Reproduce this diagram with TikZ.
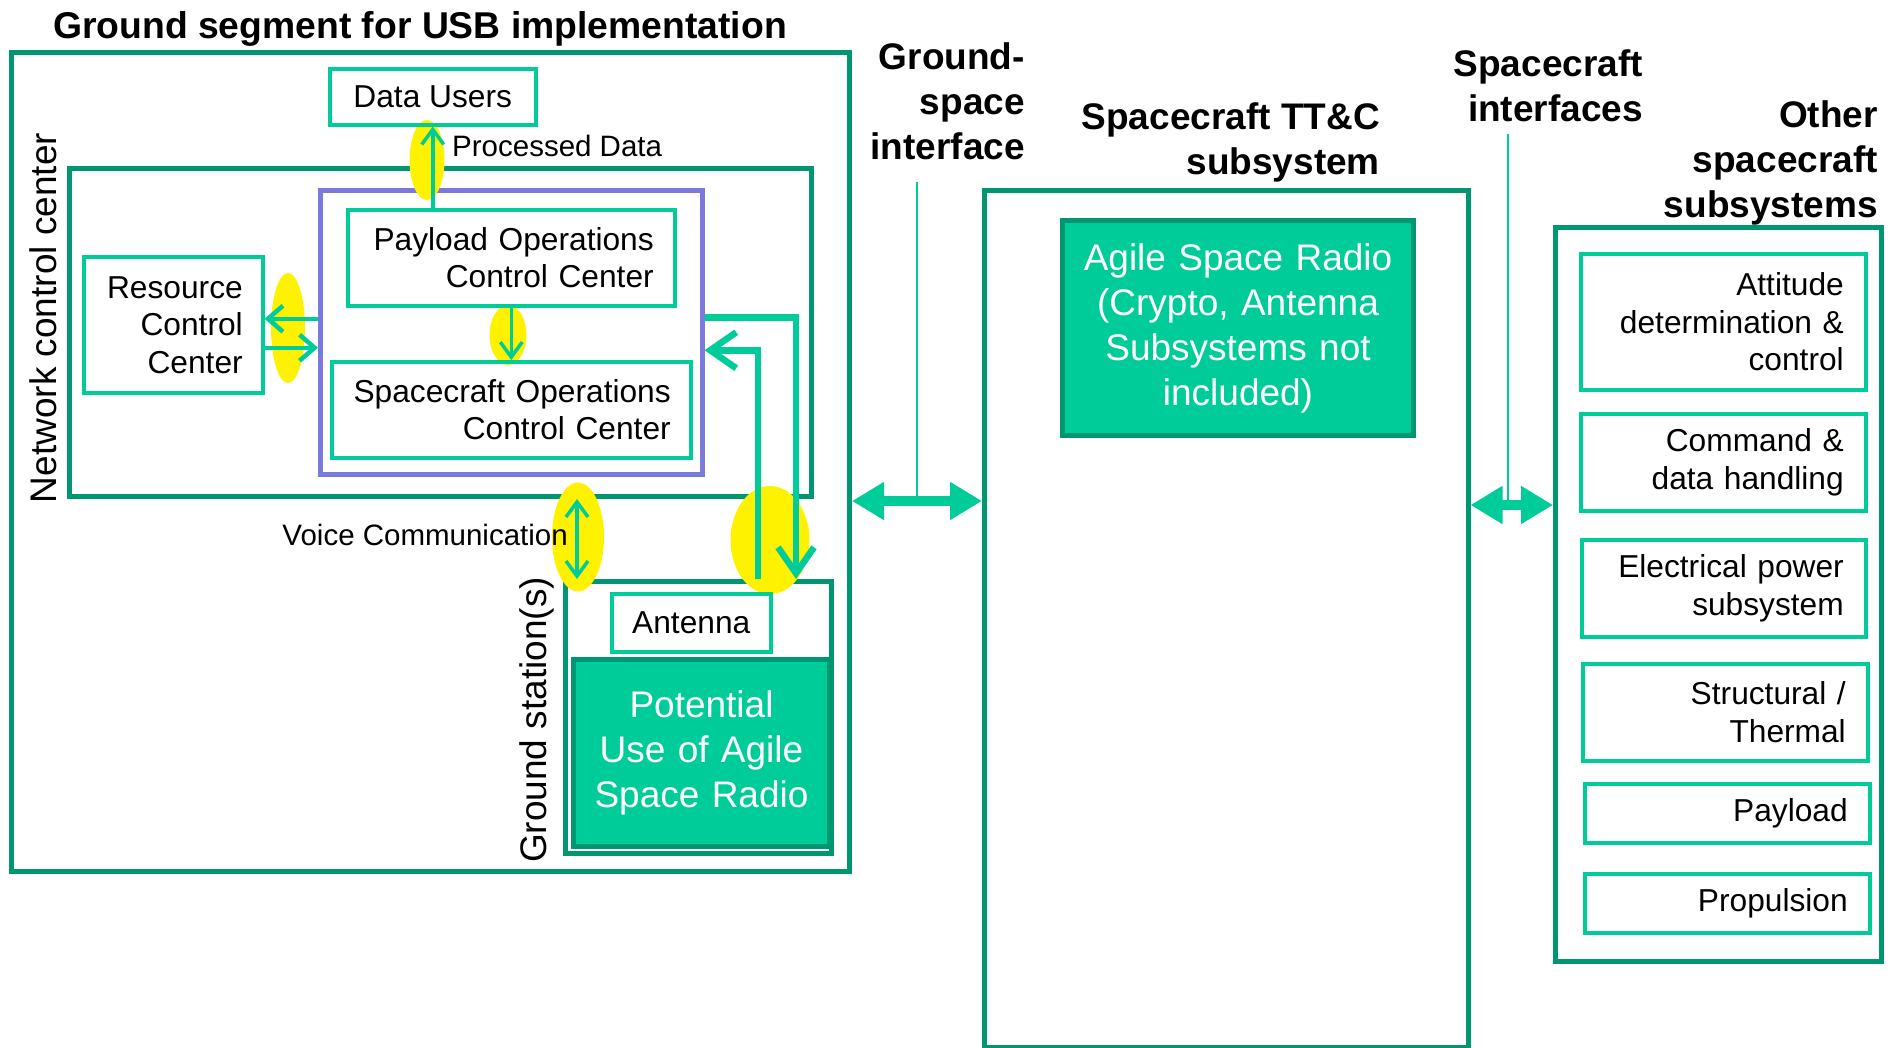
\documentclass[tikz,border=0pt]{standalone}
\usepackage{fontspec}
\setmainfont{Liberation Sans}
\usetikzlibrary{arrows.meta,calc}
\definecolor{lg}{RGB}{0,204,153}
\definecolor{dg}{RGB}{0,150,112}
\definecolor{pu}{RGB}{122,122,222}
\tikzset{
  dbox/.style={draw=dg, line width=5pt, anchor=north west, inner sep=0pt},
  lbox/.style={draw=lg, line width=3.5pt, anchor=north west, inner ysep=0pt, font=\fontsize{31.7}{37.5}\selectfont},
  fbox/.style={draw=dg, fill=lg, line width=5pt, anchor=north west, text=white, inner ysep=0pt, align=center, font=\fontsize{37}{45}\selectfont},
  hdr/.style={font=\bfseries\fontsize{37}{45}\selectfont, align=right, inner sep=0pt, anchor=north east},
  lbl/.style={font=\fontsize{29.5}{34}\selectfont, inner sep=0pt},
  rlbl/.style={font=\fontsize{37}{45}\selectfont, inner sep=0pt, rotate=90},
  hl/.style={fill=yellow},
  thinarr/.style={draw=lg, line width=3.5pt, -{Straight Barb[length=15pt,width=22pt]}},
  thinboth/.style={draw=lg, line width=3.5pt, {Straight Barb[length=15pt,width=22pt]}-{Straight Barb[length=15pt,width=22pt]}},
  medarr/.style={draw=lg, line width=4.5pt, -{Straight Barb[length=15pt,width=26pt]}},
  heavyarr/.style={draw=lg, line width=6.5pt, -{Straight Barb[length=26pt,width=36pt]}},
  bigarr/.style={draw=lg, line width=10pt, {Triangle[width=36pt,length=32pt]}-{Triangle[width=36pt,length=32pt]}},
  thinline/.style={draw=lg, line width=1.5pt},
}
\begin{document}
\begin{tikzpicture}[x=1pt,y=-1pt]
\useasboundingbox (0,0) rectangle (1898,1047);

% titles and headers
\node[font=\bfseries\fontsize{37.3}{45}\selectfont, inner sep=0pt, anchor=north] (title) at (420,11) {Ground segment for USB implementation};
\node[hdr] (gsih) at (1025,42) {Ground-\\space\\interface};
\node[hdr] (ttch) at (1380,102) {Spacecraft TT\&C\\subsystem};
\node[hdr] (scih) at (1643,49) {Spacecraft\\interfaces};
\node[hdr] (osh) at (1878,100) {Other\\spacecraft\\subsystems};

% container boxes
\node[dbox, minimum width=838.5pt, minimum height=819pt] (ground) at (8.5,50) {};
\node[dbox, minimum width=742pt, minimum height=328pt] (ncc) at (67,166) {};
\node[draw=pu, line width=4.5pt, anchor=north west, inner sep=0pt, minimum width=382pt, minimum height=284pt] (purple) at (318,188) {};
\node[dbox, minimum width=266pt, minimum height=272pt] (gs) at (563,579) {};
\node[dbox, line width=4.5pt, minimum width=484pt, minimum height=857pt] (ttc) at (982,188) {};
\node[dbox, minimum width=326pt, minimum height=734pt] (other) at (1553,225) {};

% yellow highlights
\fill[hl] (427,160) ellipse [x radius=17.5pt, y radius=40pt];
\fill[hl] (288,328) ellipse [x radius=17pt, y radius=55pt];
\fill[hl] (508,335) ellipse [x radius=18.5pt, y radius=30pt];
\fill[hl] (578,537) ellipse [x radius=26pt, y radius=54.5pt];
\fill[hl] (770,540) ellipse [x radius=39.5pt, y radius=54pt];

% inner boxes
\node[lbox, minimum width=206pt, minimum height=56pt, align=center] (du) at (328,67) {Data Users};
\node[lbox, minimum width=327pt, minimum height=96pt, inner xsep=21pt, text width=285pt, align=right] (pocc) at (346,208) {Payload Operations\\Control Center};
\node[lbox, minimum width=359pt, minimum height=96pt, inner xsep=20pt, text width=319pt, align=right] (socc) at (330,360) {Spacecraft Operations\\Control Center};
\node[lbox, minimum width=179pt, minimum height=136pt, inner xsep=20pt, text width=139pt, align=right] (rcc) at (82,255) {Resource\\Control\\Center};
\node[lbox, minimum width=159pt, minimum height=58pt, align=center] (ant) at (610,592) {Antenna};
\node[fbox, minimum width=256pt, minimum height=187pt, inner xsep=8pt, text width=240pt] (pot) at (571,657) {Potential\\Use of Agile\\Space Radio};
\node[fbox, minimum width=351pt, minimum height=215pt, inner xsep=8pt, text width=335pt] (agile) at (1060,218) {Agile Space Radio\\(Crypto, Antenna\\Subsystems not\\included)};

\node[lbox, minimum width=285pt, minimum height=136pt, inner xsep=22pt, text width=241pt, align=right] (att) at (1579,252) {Attitude\\determination \&\\control};
\node[lbox, minimum width=285pt, minimum height=97pt, inner xsep=22pt, text width=241pt, align=right] (cmd) at (1579,412) {Command \&\\data handling};
\node[lbox, minimum width=284pt, minimum height=97pt, inner xsep=22pt, text width=240pt, align=right] (ele) at (1580,538) {Electrical power\\subsystem};
\node[lbox, minimum width=285pt, minimum height=97pt, inner xsep=22pt, text width=241pt, align=right] (str) at (1581,662) {Structural /\\Thermal};
\node[lbox, minimum width=285pt, minimum height=59pt, inner xsep=22pt, text width=241pt, align=right] (pay) at (1583,782) {Payload};
\node[lbox, minimum width=285pt, minimum height=59pt, inner xsep=22pt, text width=241pt, align=right] (pro) at (1583,872) {Propulsion};

% labels
\node[rlbl] (nccl) at (43,318) {Network control center};
\node[rlbl] (gsl) at (537,720) {Ground station(s)};
\node[lbl, anchor=west] (pdl) at (452,146) {Processed Data};
\node[lbl, anchor=east] (vcl) at (568,535) {Voice Communication};

% connectors
\draw[thinarr] (du.south |- pocc.north) -- (du.south);
\draw[medarr] ([yshift=6pt]rcc.east -| purple.west) -- ([yshift=6pt]rcc.east);
\draw[medarr] ([yshift=-23pt]rcc.east) -- ([yshift=-23pt]rcc.east -| purple.west);
\draw[thinarr] (pocc.south) -- (pocc.south |- socc.north);
\draw[thinboth] ([xshift=14pt]gs.north west |- ncc.south) -- ([xshift=14pt]gs.north west);
\draw[heavyarr] ([yshift=15pt]purple.east) -| ([xshift=-38pt]gs.north east);
\draw[heavyarr] ([xshift=-76pt]gs.north east) |- ([yshift=-18pt]purple.east);

\coordinate (gsit) at (917,182);
\coordinate (gsia) at (917,501);
\coordinate (scit) at (1508,134);
\coordinate (scia) at (1508,505);
\draw[bigarr] (ground.east |- gsia) -- (ttc.west |- gsia);
\draw[thinline] (gsit) -- (gsia);
\draw[bigarr] (ttc.east |- scia) -- (other.west |- scia);
\draw[thinline] (scit) -- (scia);
\end{tikzpicture}
\end{document}
